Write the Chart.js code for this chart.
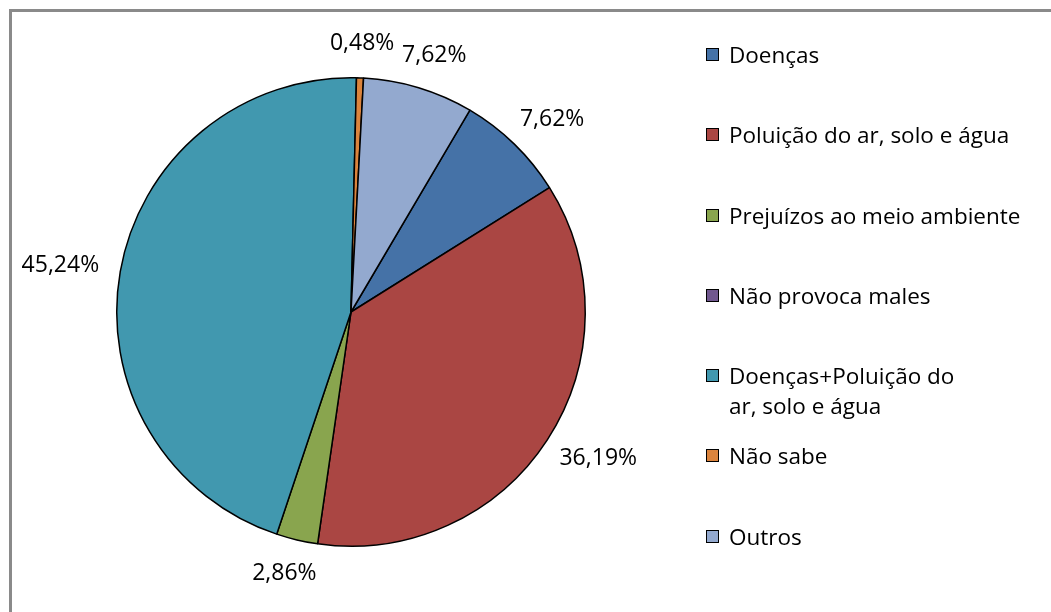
<!DOCTYPE html>
<html>
<head>
<meta charset="utf-8">
<script src="https://cdn.jsdelivr.net/npm/chart.js@4/dist/chart.umd.min.js"></script>
<style>
  html, body { margin: 0; padding: 0; background: #fff; overflow: hidden; }
  #wrap { position: relative; width: 1051px; height: 612px; }
  #frame { position: absolute; left: 9px; top: 9px; width: 1100px; height: 700px; border: 3px solid #8a8a8a; box-sizing: border-box; }
  #pie { position: absolute; left: 0; top: 0; }
  #legend { position: absolute; left: 706px; top: 40px; font-family: "Open Sans", Lato, sans-serif; font-size: 22.5px; color: #000; }
  .item { position: relative; height: 80.3px; padding-left: 23px; line-height: 30px; }
  .item .sw { position: absolute; left: 0; top: 8px; width: 13px; height: 13px; border: 1.5px solid #000; box-sizing: border-box; }
</style>
</head>
<body>
<div id="wrap">
  <div id="frame"></div>
  <canvas id="pie" width="1051" height="612"></canvas>
  <div id="legend"></div>
</div>
<script>
// categories and values (percent)
const labels = ['Doenças', 'Poluição do ar, solo e água', 'Prejuízos ao meio ambiente', 'Não provoca males', 'Doenças+Poluição do ar, solo e água', 'Não sabe', 'Outros'];
const legendLabels = ['Doenças', 'Poluição do ar, solo e água', 'Prejuízos ao meio ambiente', 'Não provoca males', 'Doenças+Poluição do<br>ar, solo e água', 'Não sabe', 'Outros'];
const values = [7.62, 36.19, 2.86, 0, 45.24, 0.48, 7.62];
const colors = ['#4572A7', '#AA4643', '#89A54E', '#71588F', '#4198AF', '#DB843D', '#93A9CF'];

const FONT = '23px "Open Sans", Lato, sans-serif';

// percentage labels outside each slice
const outsideLabels = {
    id: 'outsideLabels',
    afterDatasetsDraw(chart) {
        const ctx = chart.ctx;
        const meta = chart.getDatasetMeta(0);
        ctx.save();
        ctx.font = FONT;
        ctx.fillStyle = '#000';
        ctx.textAlign = 'center';
        ctx.textBaseline = 'middle';
        meta.data.forEach((arc, i) => {
            const v = values[i];
            if (!v) return;
            const p = arc.getProps(['x', 'y', 'startAngle', 'endAngle', 'outerRadius'], true);
            const mid = (p.startAngle + p.endAngle) / 2;
            const c = Math.cos(mid), s = Math.sin(mid);
            const text = v.toFixed(2).replace('.', ',') + '%';
            const w = ctx.measureText(text).width;
            const r = p.outerRadius + 22;
            const x = p.x + r * c + (w / 2) * c;
            const y = p.y + r * s + 12 * s;
            ctx.fillText(text, x, y);
        });
        ctx.restore();
    }
};

new Chart(document.getElementById('pie').getContext('2d'), {
    type: 'pie',
    data: {
        labels: labels,
        datasets: [{
            data: values,
            backgroundColor: colors,
            borderColor: '#000',
            borderWidth: 1.5
        }]
    },
    options: {
        responsive: false,
        animation: false,
        devicePixelRatio: 1,
        rotation: 30.5,
        layout: { padding: { left: 116, top: 77, right: 465, bottom: 65 } },
        plugins: {
            legend: { display: false },
            tooltip: { enabled: false }
        }
    },
    plugins: [outsideLabels]
});

// legend on the right
const legend = document.getElementById('legend');
legendLabels.forEach((name, i) => {
    const div = document.createElement('div');
    div.className = 'item';
    div.innerHTML = `<span class="sw" style="background:${colors[i]}"></span>${name}`;
    legend.appendChild(div);
});
</script>
</body>
</html>
